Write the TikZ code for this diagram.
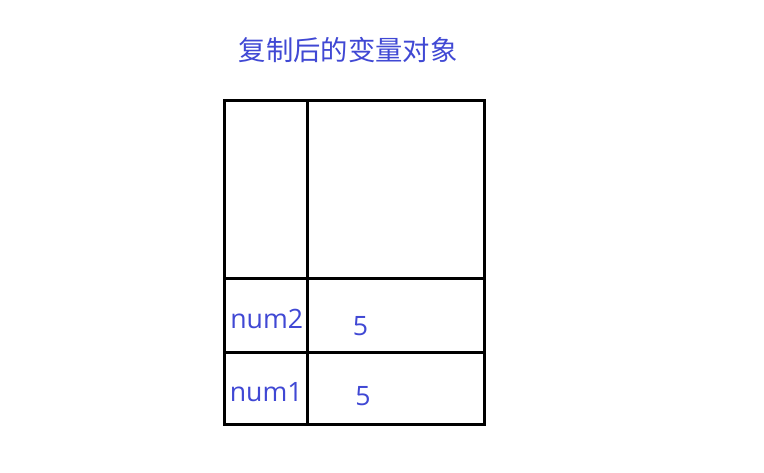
\documentclass[tikz,border=0pt]{standalone}
\usepackage{fontspec}
\setmainfont{Open Sans}
\newfontfamily\cjk{Noto Sans CJK SC}
\definecolor{txtblue}{RGB}{64,72,212}
\begin{document}
\begin{tikzpicture}[x=0.75pt,y=-0.75pt,
  grid/.style={line width=2.25pt,draw=black},
  lbl/.style={text=txtblue,font=\fontsize{20}{23}\selectfont,inner sep=0pt,anchor=base},
  ttl/.style={text=txtblue,font=\cjk\fontsize{20.5}{24}\selectfont,inner sep=0pt,anchor=base}]
\useasboundingbox[fill=white] (0,0) rectangle (764,472);
% table
\coordinate (tl) at (224.5,100.5);
\coordinate (br) at (484,424.7);
\draw[grid] (tl) rectangle (br);
\draw[grid] (307.5,100.5) -- (307.5,424.7);
\draw[grid] (224.5,278.7) -- (485.5,278.7);
\draw[grid] (224.5,352.2) -- (485.5,352.2);
% texts
\node[ttl] (title) at (348,60.5) {复制后的变量对象};
\node[lbl] (n2) at (266.7,328.3) {num2};
\node[lbl] (n1) at (266.2,401.7) {num1};
\node[lbl] (v2) at (360.5,335) {5};
\node[lbl] (v1) at (363,405) {5};
\end{tikzpicture}
\end{document}
